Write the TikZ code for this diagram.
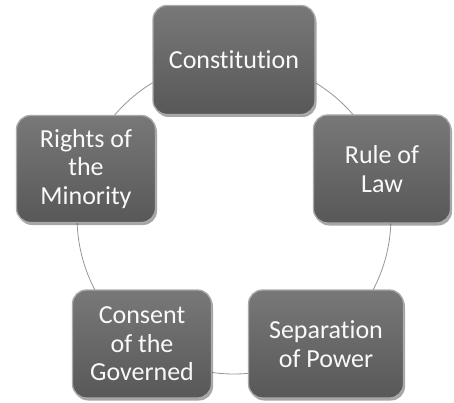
\documentclass[tikz,border=0pt]{standalone}
\usepackage{fontspec}
\setmainfont{Carlito}[Ligatures=NoCommon]
\usetikzlibrary{shadows}
\definecolor{boxtop}{RGB}{120,120,120}
\definecolor{boxbot}{RGB}{88,88,88}
\definecolor{boxedge}{RGB}{170,170,170}
\definecolor{ringcol}{RGB}{150,150,150}
\begin{document}
\begin{tikzpicture}[x=1pt,y=-1pt,
  box/.style={rounded corners=14pt, draw=boxedge, line width=1.3pt,
    top color=boxtop, bottom color=boxbot, text=white!95!gray,
    font=\fontsize{26}{28.5}\selectfont, align=center, inner sep=0pt,
    drop shadow={shadow xshift=1.5pt, shadow yshift=-2.5pt, opacity=0.35, fill=black}},
  ring/.style={draw=ringcol, line width=0.8pt}]
\useasboundingbox (0,0) rectangle (454,403);
\coordinate (o) at (234,217);
\draw[ring] (o) circle[radius=157pt];
\node[box, minimum width=162pt, minimum height=109pt] (c) at (234,60) {Constitution};
\node[box, minimum width=137pt, minimum height=108pt] (r) at (382,169) {Rule of\\Law};
\node[box, minimum width=155pt, minimum height=108pt] (s) at (326,344) {Separation\\of Power};
\node[box, minimum width=139pt, minimum height=108pt] (g) at (142,344) {Consent\\of the\\Governed};
\node[box, minimum width=139pt, minimum height=107pt] (m) at (86,169) {Rights of\\the\\Minority};
\end{tikzpicture}
\end{document}
